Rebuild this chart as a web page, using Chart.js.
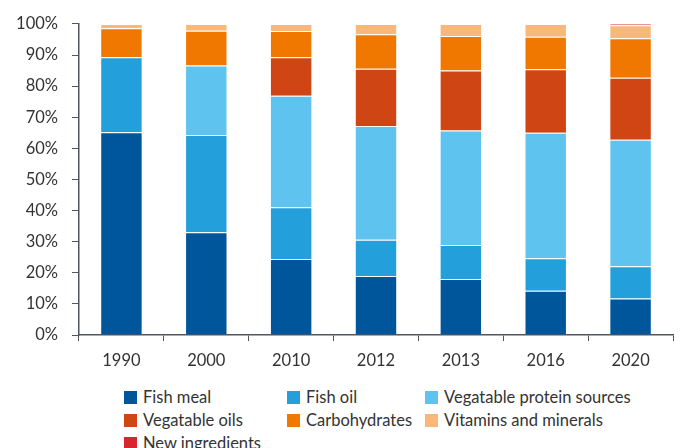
<!DOCTYPE html>
<html>
<head>
<meta charset="utf-8">
<script src="https://cdn.jsdelivr.net/npm/chart.js@4/dist/chart.umd.min.js"></script>
<style>
  html, body { margin: 0; padding: 0; background: #fff; }
  #wrap { position: relative; width: 680px; height: 448px; overflow: hidden; font-family: Lato, sans-serif; }
  #chart { position: absolute; left: 0; top: 0; }
  .lg { position: absolute; font-size: 16.5px; color: #333; line-height: 13px; white-space: nowrap; }
  .lg i { position: absolute; left: 0; top: 0; width: 13px; height: 13px; }
  .lg span { position: absolute; left: 19px; top: 0; }
</style>
</head>
<body>
<div id="wrap">
  <canvas id="chart" width="680" height="375"></canvas>
  <div id="legend"></div>
</div>
<script>
const years = ['1990', '2000', '2010', '2012', '2013', '2016', '2020'];
const yTicks = [0, 10, 20, 30, 40, 50, 60, 70, 80, 90, 100];

const seriesNames = [
  'Fish meal', 'Fish oil', 'Vegatable protein sources',
  'Vegatable oils', 'Carbohydrates', 'Vitamins and minerals',
  'New ingredients'
];
const seriesColors = ['#00569a', '#23a0db', '#5ec3ee', '#d04514', '#f07800', '#f9b87a', '#d8262e'];

// shares in %, per year
const fishMeal       = [65.2, 33.0, 24.4, 19.0, 18.0, 14.2, 11.7];
const fishOil        = [24.1, 31.3, 16.7, 11.6, 10.9, 10.5, 10.4];
const vegProtein     = [0,    22.3, 35.8, 36.6, 36.8, 40.3, 40.7];
const vegOils        = [0,    0,    12.4, 18.4, 19.3, 20.4, 19.9];
const carbohydrates  = [9.3,  11.2, 8.4,  11.1, 11.1, 10.5, 12.7];
const vitamins       = [1.4,  2.2,  2.3,  3.3,  3.9,  4.1,  4.2];
const newIngredients = [0,    0,    0,    0,    0,    0,    0.4];

const seriesData = [fishMeal, fishOil, vegProtein, vegOils, carbohydrates, vitamins, newIngredients];

const axisColor = '#50555f';
const textColor = '#333';

new Chart(document.getElementById('chart'), {
  type: 'bar',
  data: {
    labels: years,
    datasets: seriesNames.map((name, i) => ({
      label: name,
      data: seriesData[i],
      backgroundColor: seriesColors[i],
      borderColor: 'rgba(255,255,255,0.45)',
      borderWidth: 1,
      categoryPercentage: 1,
      barPercentage: 0.5
    }))
  },
  options: {
    responsive: false,
    animation: false,
    layout: { padding: { left: 0, right: 7, top: 20, bottom: 0 } },
    plugins: { legend: { display: false }, tooltip: { enabled: false } },
    scales: {
      x: {
        stacked: true,
        grid: { display: true, drawOnChartArea: false, color: axisColor, tickLength: 6, offset: true },
        border: { color: axisColor, width: 1.5 },
        ticks: { color: textColor, font: { family: 'Lato', size: 16.5 }, padding: 10 },
        afterFit: s => { s.height = 40; }
      },
      y: {
        stacked: true,
        min: 0,
        max: 100,
        afterBuildTicks: s => { s.ticks = yTicks.map(v => ({ value: v })); },
        grid: { display: true, drawOnChartArea: false, color: axisColor, tickLength: 7 },
        border: { color: axisColor, width: 1.5 },
        ticks: { color: textColor, font: { family: 'Lato', size: 16.5 }, padding: 14, callback: v => v + '%' },
        afterFit: s => { s.width = 79; }
      }
    }
  }
});

// legend in three columns, same order as the series
const colX = [124, 287, 425];
const rowY = [391, 414, 437];
const legend = document.getElementById('legend');
seriesNames.forEach((name, i) => {
  const d = document.createElement('div');
  d.className = 'lg';
  d.style.left = colX[i % 3] + 'px';
  d.style.top = rowY[Math.floor(i / 3)] + 'px';
  d.innerHTML = '<i style="background:' + seriesColors[i] + '"></i><span>' + name + '</span>';
  legend.appendChild(d);
});
</script>
</body>
</html>
